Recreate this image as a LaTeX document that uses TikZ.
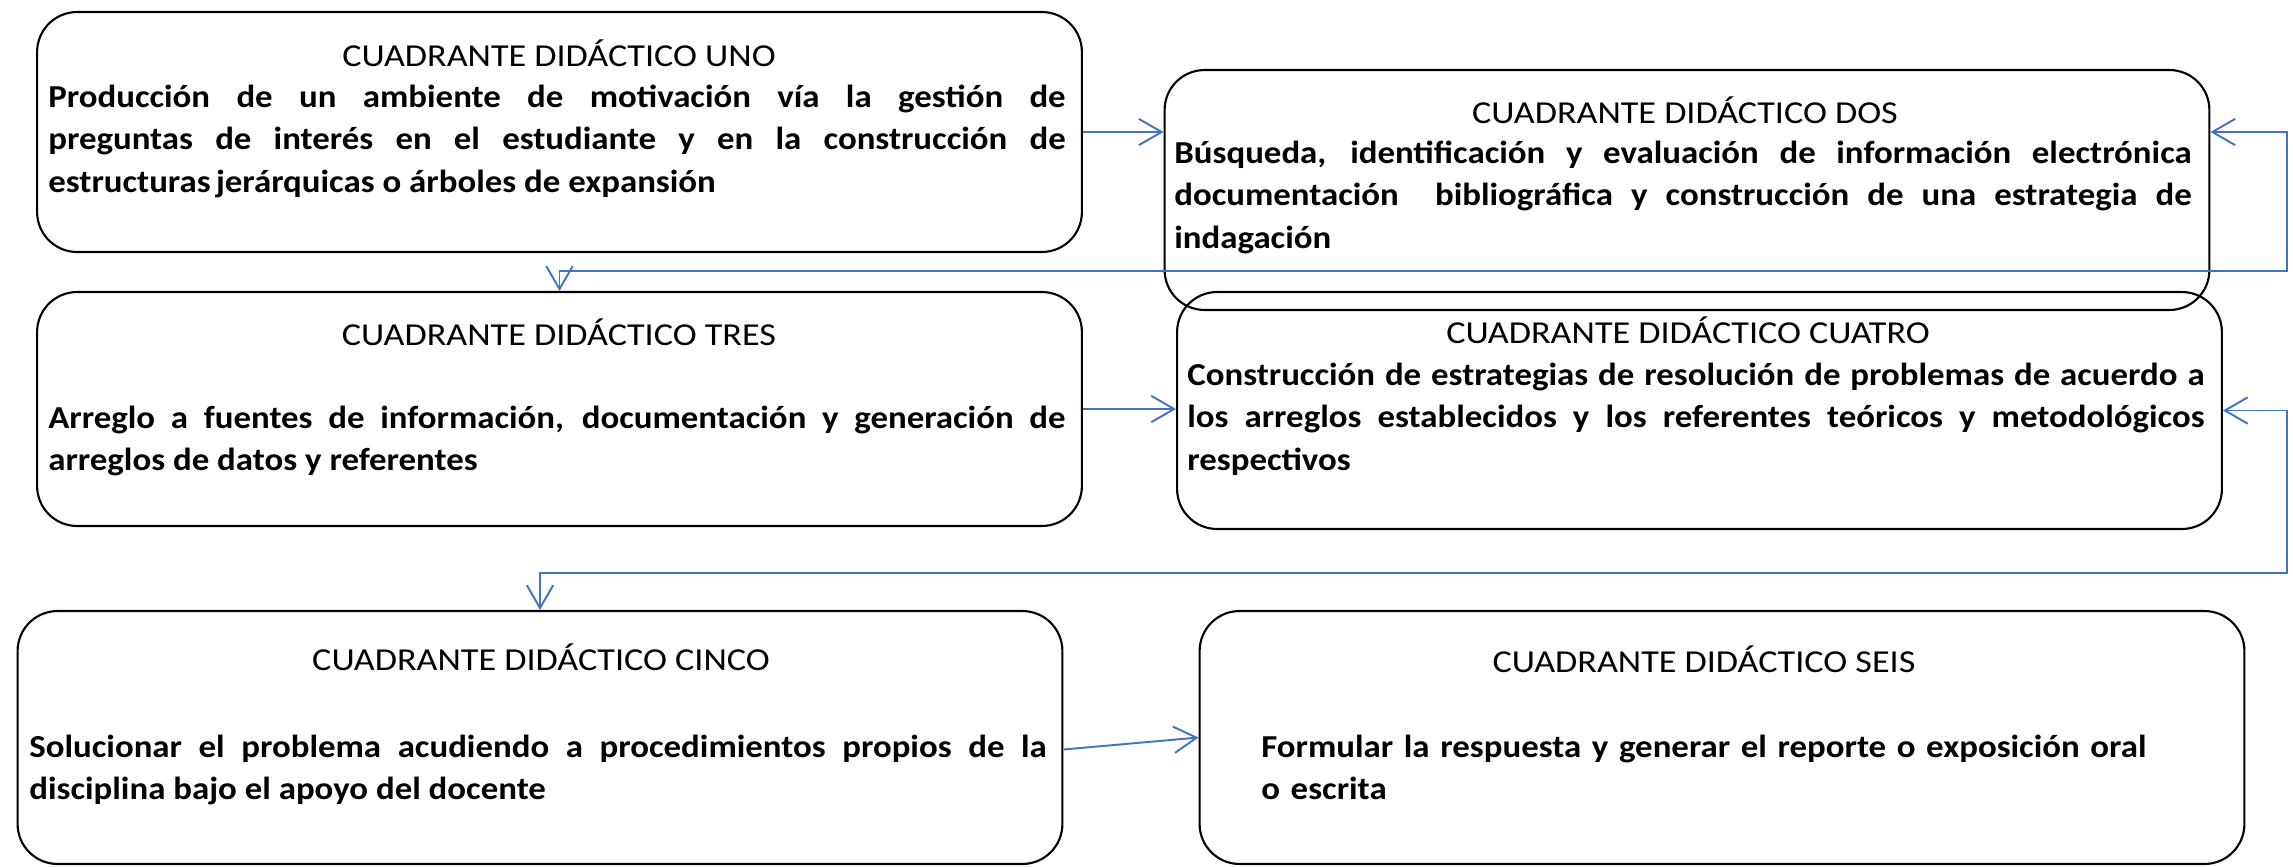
\documentclass[tikz,border=0pt]{standalone}
\usepackage{fontspec}
\setmainfont{Carlito}[FakeStretch=1.09]
\newfontfamily\fuentetitulo{Carlito}[FakeStretch=1.13]
\usetikzlibrary{arrows.meta}
\definecolor{azul}{HTML}{4472C4}

\begin{document}
\begin{tikzpicture}[x=0.02cm, y=-0.02cm,
  cuadro/.style={draw, line width=1.2pt, rounded corners=0.8cm, inner sep=0pt, minimum width=20.9cm},
  titulo/.style={anchor=base, inner sep=0pt, font=\fontsize{18.2pt}{24.2pt}\fuentetitulo},
  texto/.style={anchor=base west, inner sep=0pt, text width=20.35cm, align=justify,
    font=\fontsize{18.2pt}{24.2pt}\selectfont\bfseries},
  flecha/.style={azul, line width=1.1pt, -{Straight Barb[length=13pt, width=15pt]}},
  doble/.style={flecha, {Straight Barb[length=13pt, width=15pt]}-{Straight Barb[length=13pt, width=15pt]}}
]
\useasboundingbox (0,0) rectangle (2293,866);

% Cuadrantes
\node[cuadro, minimum height=4.8cm] (uno) at (559.5,132) {};
\node[cuadro, minimum height=4.8cm] (dos) at (1687,190) {};
\node[cuadro, minimum height=4.68cm] (tres) at (559.5,409) {};
\node[cuadro, minimum height=4.74cm] (cuatro) at (1699.5,410.5) {};
\node[cuadro, minimum height=5.06cm] (cinco) at (540,737.5) {};
\node[cuadro, minimum height=5.06cm] (seis) at (1722,737.5) {};

\node[titulo] (uno-t) at (559,66) {CUADRANTE DIDÁCTICO UNO};
\node[texto] (uno-c) at (48,107) {Producción de un ambiente de motivación vía la gestión de\linebreak
  preguntas de interés en el estudiante y en la construcción de\linebreak
  estructuras\,jerárquicas o árboles de expansión};

\node[titulo] (dos-t) at (1685,123) {CUADRANTE DIDÁCTICO DOS};
\node[texto] (dos-c) at (1174,163) {Búsqueda, identificación y evaluación de información electrónica\linebreak
  documentación~ bibliográfica y construcción de una estrategia de\linebreak
  indagación};

\node[titulo] (tres-t) at (559,345) {CUADRANTE DIDÁCTICO TRES};
\node[texto] (tres-c) at (48,428) {Arreglo a fuentes de información, documentación y generación de\linebreak
  arreglos de datos y referentes};

\node[titulo] (cuatro-t) at (1688,343) {CUADRANTE DIDÁCTICO CUATRO};
\node[texto] (cuatro-c) at (1187,385) {Construcción de estrategias de resolución de problemas de acuerdo a\linebreak
  los arreglos establecidos y los referentes teóricos y metodológicos\linebreak
  respectivos};

\node[titulo] (cinco-t) at (541,670) {CUADRANTE DIDÁCTICO CINCO};
\node[texto] (cinco-c) at (29,757) {Solucionar el problema acudiendo a procedimientos propios de la\linebreak
  disciplina bajo el apoyo del docente};

\node[titulo] (seis-t) at (1704,672) {CUADRANTE DIDÁCTICO SEIS};
\node[texto, align=left] (seis-c) at (1261,757) {Formular la respuesta y generar el reporte o exposición oral\\
  o escrita};

% Flechas
\coordinate (r1) at (2287,271);
\coordinate (r2) at (2287,573);
\draw[flecha] (uno.east) -- (dos.west |- uno.east);
\draw[doble] (dos.east |- uno.east) -| (r1) -| (tres.north);
\draw[flecha] (tres.east) -- (cuatro.west |- tres.east);
\draw[doble] (cuatro.east) -| (r2) -| (cinco.north);
\draw[flecha] ([yshift=-0.24cm]cinco.east) -- (seis.west);
\end{tikzpicture}
\end{document}
